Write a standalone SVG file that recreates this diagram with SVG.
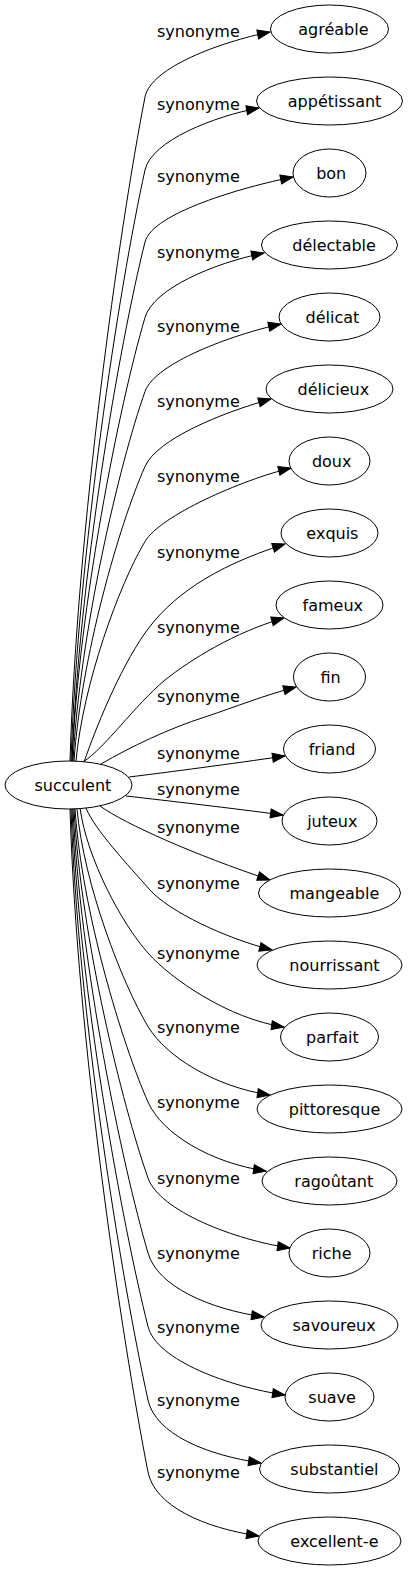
<svg xmlns="http://www.w3.org/2000/svg" width="408" height="1571" viewBox="0 0 408 1571">
<defs>
<marker id="arr" markerUnits="userSpaceOnUse" markerWidth="14" markerHeight="10" refX="12.5" refY="4.5" orient="auto" overflow="visible">
<path d="M0,0 L12.5,4.5 L0,9 z" fill="#000" stroke="#000" stroke-width="1"/>
</marker>
</defs>
<style>
.node ellipse{fill:#fff;stroke:#000;stroke-width:1}
.node text{font-family:"DejaVu Sans",sans-serif;font-size:16px;fill:#000;text-anchor:middle}
.edges path{fill:none;stroke:#000;stroke-width:1;marker-end:url(#arr)}
.edges text{font-family:"DejaVu Sans",sans-serif;font-size:16px;fill:#000;text-anchor:start}
</style>
<rect width="408" height="1571" fill="#fff"/>
<g id="edges" class="edges">
<path d="M70,761 C77,529 119,230 145,97 C150.8,67.6 220,42 270,32"/>
<path d="M71,761 C78,554 119,288 145,170 C151.4,140.7 215,116 259,108"/>
<path d="M72,761 C79,579 119,346 145,242 C152.3,212.9 243,187 293,177"/>
<path d="M72,761 C79,606 119,406 145,317.5 C153.4,288.7 214,263 264,253"/>
<path d="M73,761 C80,632 119,465 145,391.5 C155,363.2 231,335 281,324"/>
<path d="M74,761 C81,658 119,525 145,466.5 C157.1,439.1 221,413 271,399"/>
<path d="M76,761 C83,684 119,585 145,541.5 C160.3,515.7 241,480 291,468"/>
<path d="M84,762 C96,728 118,672 145,633 C170,598 210,568 285,544"/>
<path d="M83,762 C105,748 135,705 165,680 C190,660 235,632 284,618"/>
<path d="M101,764 C130,747 170,728 205,717 C235,707 265,695 296,687"/>
<path d="M129,777 C170,772 230,764 285,756"/>
<path d="M126,796 C170,801 230,808 283,815"/>
<path d="M100,806 C125,824 195,855 270,880"/>
<path d="M86,808 C95,830 128,865 150,890 C170,912 225,938 272,950"/>
<path d="M80,808 C87,859 122,924 148,953 C171,979 229,1019 284,1027"/>
<path d="M77,809 C84,885 122,983 148,1026.5 C166,1056.5 215,1087 270,1095"/>
<path d="M75,809 C82,911.6 122,1043.4 148,1102 C162.2,1134 211,1163 266,1171"/>
<path d="M74,809 C81,938 122,1104 148,1178 C159.6,1211 235,1240 290,1248"/>
<path d="M73,809 C80,964 122,1164 148,1253 C157.8,1286.6 209,1309 264,1317"/>
<path d="M72,809 C79,990 122,1223 148,1326.5 C156.5,1360.5 230,1387 285,1395"/>
<path d="M71,809 C78,1016 122,1282 148,1400 C155.5,1434 206,1455 261,1463"/>
<path d="M70,809 C77,1041 122,1339 148,1472 C154.7,1506 204,1528 259,1536"/>
<text x="157" y="37">synonyme</text>
<text x="157" y="110">synonyme</text>
<text x="157" y="182">synonyme</text>
<text x="157" y="257.5">synonyme</text>
<text x="157" y="331.5">synonyme</text>
<text x="157" y="406.5">synonyme</text>
<text x="157" y="481.5">synonyme</text>
<text x="157" y="558">synonyme</text>
<text x="157" y="633">synonyme</text>
<text x="157" y="701.5">synonyme</text>
<text x="157" y="759">synonyme</text>
<text x="157" y="795">synonyme</text>
<text x="157" y="833">synonyme</text>
<text x="157" y="889">synonyme</text>
<text x="157" y="959">synonyme</text>
<text x="157" y="1032.5">synonyme</text>
<text x="157" y="1108">synonyme</text>
<text x="157" y="1184">synonyme</text>
<text x="157" y="1259">synonyme</text>
<text x="157" y="1332.5">synonyme</text>
<text x="157" y="1406">synonyme</text>
<text x="157" y="1478">synonyme</text>
</g>
<g id="n-succulent" class="node"><ellipse cx="68.5" cy="785" rx="63.5" ry="24"/><text x="72.9" y="791">succulent</text></g>
<g id="n-agreable" class="node"><ellipse cx="329.5" cy="29" rx="59" ry="24"/><text x="333.4" y="35">agréable</text></g>
<g id="n-appetissant" class="node"><ellipse cx="329.5" cy="101" rx="73" ry="24"/><text x="334.6" y="107">appétissant</text></g>
<g id="n-bon" class="node"><ellipse cx="329.5" cy="173" rx="36.5" ry="24"/><text x="331.2" y="179">bon</text></g>
<g id="n-delectable" class="node"><ellipse cx="329.5" cy="245" rx="68" ry="24"/><text x="334.1" y="251">délectable</text></g>
<g id="n-delicat" class="node"><ellipse cx="329.5" cy="317" rx="50.5" ry="24"/><text x="332.5" y="323">délicat</text></g>
<g id="n-delicieux" class="node"><ellipse cx="329.5" cy="389" rx="63.5" ry="24"/><text x="333.4" y="395">délicieux</text></g>
<g id="n-doux" class="node"><ellipse cx="329.5" cy="461" rx="40.5" ry="24"/><text x="331.7" y="467">doux</text></g>
<g id="n-exquis" class="node"><ellipse cx="329.5" cy="533" rx="48.5" ry="24"/><text x="332.4" y="539">exquis</text></g>
<g id="n-fameux" class="node"><ellipse cx="329.5" cy="605" rx="53.5" ry="24"/><text x="332.8" y="611">fameux</text></g>
<g id="n-fin" class="node"><ellipse cx="329.5" cy="677" rx="36" ry="24"/><text x="330.6" y="683">fin</text></g>
<g id="n-friand" class="node"><ellipse cx="329.5" cy="749" rx="46" ry="24"/><text x="332.1" y="755">friand</text></g>
<g id="n-juteux" class="node"><ellipse cx="329.5" cy="821" rx="47.5" ry="24"/><text x="332.3" y="827">juteux</text></g>
<g id="n-mangeable" class="node"><ellipse cx="329.5" cy="893" rx="71" ry="24"/><text x="334.4" y="899">mangeable</text></g>
<g id="n-nourrissant" class="node"><ellipse cx="329.5" cy="965" rx="72.5" ry="24"/><text x="334.5" y="971">nourrissant</text></g>
<g id="n-parfait" class="node"><ellipse cx="329.5" cy="1037" rx="49" ry="24"/><text x="332.4" y="1043">parfait</text></g>
<g id="n-pittoresque" class="node"><ellipse cx="329.5" cy="1109" rx="72.5" ry="24"/><text x="334.5" y="1115">pittoresque</text></g>
<g id="n-ragoutant" class="node"><ellipse cx="329.5" cy="1181" rx="67.5" ry="24"/><text x="333.8" y="1187">ragoûtant</text></g>
<g id="n-riche" class="node"><ellipse cx="329.5" cy="1253" rx="40.5" ry="24"/><text x="331.7" y="1259">riche</text></g>
<g id="n-savoureux" class="node"><ellipse cx="329.5" cy="1325" rx="68.5" ry="24"/><text x="334.1" y="1331">savoureux</text></g>
<g id="n-suave" class="node"><ellipse cx="329.5" cy="1397" rx="44.5" ry="24"/><text x="332.1" y="1403">suave</text></g>
<g id="n-substantiel" class="node"><ellipse cx="329.5" cy="1469" rx="70" ry="24"/><text x="334.4" y="1475">substantiel</text></g>
<g id="n-excellent-e" class="node"><ellipse cx="329.5" cy="1541" rx="71.5" ry="24"/><text x="334.4" y="1547">excellent-e</text></g>
</svg>
